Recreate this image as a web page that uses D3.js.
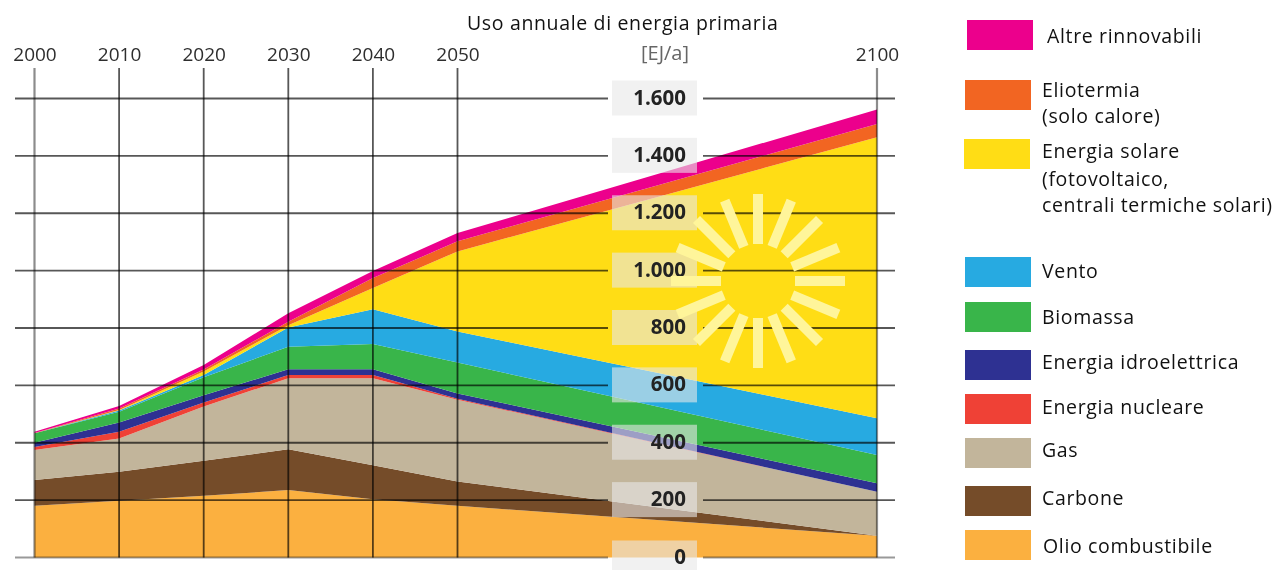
<!DOCTYPE html>
<html>
<head>
<meta charset="utf-8">
<script src="https://cdn.jsdelivr.net/npm/d3@7"></script>
<style>
  html, body { margin: 0; padding: 0; background: #fff; overflow: hidden; }
  text { font-family: "Open Sans", sans-serif; }
  /* the source image is a soft upscale */
  svg { filter: blur(0.5px); }
</style>
</head>
<body>
<svg id="chart" width="1276" height="570"></svg>
<script>
// EJ per year
const years = [2000, 2010, 2020, 2030, 2040, 2050, 2100];
const olio = [180, 198, 215, 235, 203, 180, 76];
const carbone = [90, 101, 122, 142, 119, 85, 0];
const gas = [105, 116, 189, 248, 303, 285, 153];
const nucleare = [10, 23, 14, 11, 11, 3, 0];
const idro = [15, 33, 26, 20, 20, 19, 30];
const biomassa = [33, 37, 62, 79, 88, 108, 98];
const vento = [0, 4, 8, 67, 121, 108, 128];
const solare = [0, 2, 12, 8, 74, 279, 980];
const eliotermia = [1, 5, 7, 12, 35, 35, 46];
const altre = [4, 9, 16, 29, 25, 29, 51];

const yTicks = [0, 200, 400, 600, 800, 1000, 1200, 1400, 1600];

// bottom to top
const seriesNames = ["olio", "carbone", "gas", "nucleare", "idro", "biomassa", "vento", "solare", "eliotermia", "altre"];
const seriesValues = [olio, carbone, gas, nucleare, idro, biomassa, vento, solare, eliotermia, altre];
const seriesColors = ["#fbb040", "#754c29", "#c2b59b", "#ef4136", "#2e3192", "#39b54a", "#27aae1", "#ffdd15", "#f26522", "#ec008c"];

const legendKeys = ["altre", "eliotermia", "solare", "vento", "biomassa", "idro", "nucleare", "gas", "carbone", "olio"];
const legendLabels = [
  ["Altre rinnovabili"],
  ["Eliotermia", "(solo calore)"],
  ["Energia solare", "(fotovoltaico,", "centrali termiche solari)"],
  ["Vento"],
  ["Biomassa"],
  ["Energia idroelettrica"],
  ["Energia nucleare"],
  ["Gas"],
  ["Carbone"],
  ["Olio combustibile"]
];

// legend layout, rows are not evenly spaced in the original
const swatchX = [967, 965, 964, 965, 965, 965, 965, 965, 965, 965];
const swatchY = [20, 80, 139, 257, 302, 350, 394, 438, 486, 530];
const labelX = [1047, 1042, 1042, 1042, 1042, 1042, 1042, 1042, 1042, 1043];
const labelY = [[43], [97, 123], [158, 186, 212], [278], [324], [369], [414], [457], [505], [553]];

const svg = d3.select("#chart");

const x = d3.scaleLinear().domain([2000, 2050, 2100]).range([34.5, 457.5, 877]);
const y = d3.scaleLinear().domain([0, 1600]).range([557.5, 98.5]);

const rows = years.map((yr, i) => {
  const row = { year: yr };
  seriesNames.forEach((n, j) => { row[n] = seriesValues[j][i]; });
  return row;
});

const stack = d3.stack().keys(seriesNames)(rows);
const area = d3.area()
  .x(d => x(d.data.year))
  .y0(d => y(d[0]))
  .y1(d => y(d[1]));

svg.append("g").selectAll("path")
  .data(stack)
  .join("path")
  .attr("d", area)
  .attr("fill", (d, i) => seriesColors[i]);

// horizontal grid, broken around the label column
const grid = svg.append("g").attr("stroke", "#000").attr("stroke-opacity", 0.66).attr("stroke-width", 1.8);
[[15, 608], [703, 895]].forEach(seg => {
  grid.append("g").selectAll("line")
    .data(yTicks)
    .join("line")
    .attr("x1", seg[0])
    .attr("x2", seg[1])
    .attr("y1", d => y(d))
    .attr("y2", d => y(d))
    .attr("stroke-opacity", d => d === 0 ? 0.4 : null);
});

// vertical grid
grid.append("g").selectAll("line")
  .data(years)
  .join("line")
  .attr("x1", d => x(d))
  .attr("x2", d => x(d))
  .attr("y1", 68)
  .attr("y2", y(0))
  .attr("stroke-opacity", d => (d === 2000 || d === 2100) ? 0.45 : null)
  .attr("stroke-width", d => (d === 2000 || d === 2100) ? 2.2 : null);

// top axis with the years
const xAxis = svg.append("g")
  .attr("transform", "translate(0,64)")
  .call(d3.axisTop(x).tickValues(years).tickFormat(d3.format("d")).tickSize(0));
xAxis.select(".domain").remove();
xAxis.selectAll("text")
  .attr("font-size", 19)
  .attr("font-family", "Open Sans")
  .attr("fill", "#2e2e2e");

svg.append("text")
  .attr("x", 665).attr("y", 60)
  .attr("text-anchor", "middle")
  .attr("font-size", 20)
  .attr("fill", "#666")
  .text("[EJ/a]");

// value labels sit on translucent boxes
const itFormat = d3.formatLocale({ decimal: ",", thousands: ".", grouping: [3], currency: ["", "€"] }).format(",");
const tickG = svg.append("g").selectAll("g")
  .data(yTicks)
  .join("g")
  .attr("transform", d => `translate(0,${y(d)})`);
tickG.append("rect")
  .attr("x", 612)
  .attr("y", d => d === 0 ? -17 : -18)
  .attr("width", 85)
  .attr("height", d => d === 0 ? 30 : 35)
  .attr("fill", "#e8e8e8")
  .attr("fill-opacity", 0.6);
tickG.append("text")
  .attr("x", 686)
  .attr("y", 6)
  .attr("text-anchor", "end")
  .attr("font-size", 20.5)
  .attr("font-weight", 700)
  .attr("fill", "#222")
  .text(d => itFormat(d));

// sun
const sunX = 758, sunY = 281;
svg.append("g")
  .attr("transform", `translate(${sunX},${sunY})`)
  .selectAll("rect")
  .data(d3.range(16))
  .join("rect")
  .attr("x", 37)
  .attr("y", -5)
  .attr("width", 50)
  .attr("height", 10)
  .attr("fill", "#fff59a")
  .attr("transform", d => `rotate(${d * 22.5})`);

svg.append("text")
  .attr("x", 467).attr("y", 30)
  .attr("font-size", 19.5)
  .attr("letter-spacing", 0.65)
  .attr("fill", "#111")
  .text("Uso annuale di energia primaria");

// legend
const legend = svg.append("g").selectAll("g")
  .data(legendKeys)
  .join("g");
legend.append("rect")
  .attr("x", (d, i) => swatchX[i])
  .attr("y", (d, i) => swatchY[i])
  .attr("width", 66)
  .attr("height", 30)
  .attr("fill", d => seriesColors[seriesNames.indexOf(d)]);
legend.each(function(d, i) {
  d3.select(this).selectAll("text")
    .data(legendLabels[i])
    .join("text")
    .attr("x", labelX[i])
    .attr("y", (t, k) => labelY[i][k])
    .attr("font-size", 19.5)
    .attr("letter-spacing", 0.65)
    .attr("fill", "#111")
    .text(t => t);
});
</script>
</body>
</html>
